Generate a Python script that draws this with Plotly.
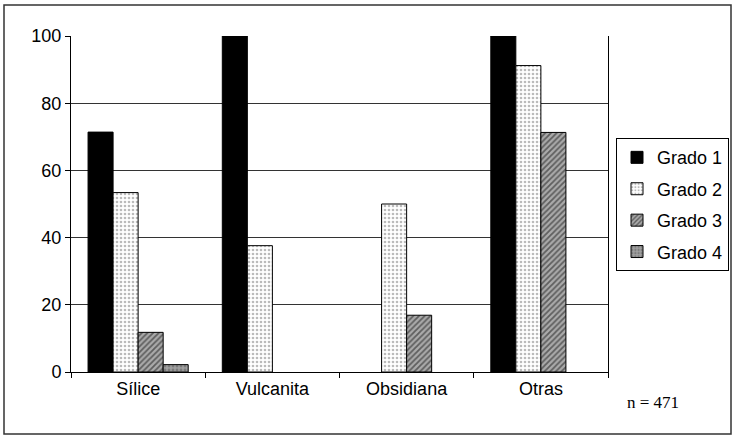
import plotly.graph_objects as go

categories = ["Sílice", "Vulcanita", "Obsidiana", "Otras"]
grado1 = [71.4, 100, None, 100]
grado2 = [53.4, 37.6, 50, 91.2]
grado3 = [11.8, None, 16.9, 71.3]
grado4 = [2.2, None, None, None]
series_names = ["Grado 1", "Grado 2", "Grado 3", "Grado 4"]
y_ticks = [0, 20, 40, 60, 80, 100]

styles = [
    dict(color="black", pattern=None),
    dict(color="white", pattern=dict(shape=".", fgcolor="#777777", bgcolor="white", size=4, solidity=0.35)),
    dict(color="#888888", pattern=dict(shape="/", fgcolor="#111111", bgcolor="#aaaaaa", size=4, solidity=0.45)),
    dict(color="#999999", pattern=dict(shape=".", fgcolor="#555555", bgcolor="#a0a0a0", size=4, solidity=0.4)),
]

fig = go.Figure()
for i, (name, vals) in enumerate(zip(series_names, [grado1, grado2, grado3, grado4])):
    st = styles[i]
    marker = dict(color=st["color"], line=dict(color="black", width=1))
    if st["pattern"]:
        marker["pattern"] = st["pattern"]
    fig.add_trace(go.Bar(x=categories, y=vals, name=name, marker=marker, legendgroup=name))

fig.update_layout(
    width=733, height=436,
    margin=dict(l=71, r=125, t=36, b=64, autoexpand=False),
    paper_bgcolor="white", plot_bgcolor="white",
    barmode="group", bargap=0.254, bargroupgap=0,
    font=dict(family="Liberation Sans, Arial", size=18, color="black"),
    legend=dict(x=(616 - 71) / 537, y=0.696, xanchor="left", yanchor="top",
                bordercolor="black", borderwidth=1, bgcolor="white",
                font=dict(size=18), tracegroupgap=5, itemwidth=30),
    showlegend=True,
)
fig.update_xaxes(showline=True, linecolor="black", linewidth=1, ticks="outside",
                 tickson="boundaries", ticklen=5, tickcolor="black", showgrid=False)
fig.update_yaxes(range=[0, 100], tickvals=y_ticks, showline=True, linecolor="black",
                 linewidth=1, mirror=True, ticks="outside", ticklen=5, tickcolor="black",
                 showgrid=True, gridcolor="#333333", gridwidth=1, zeroline=False)

fig.add_annotation(text="n = 471", xref="paper", yref="paper", x=(625 - 71) / 537,
                   y=(372 - 403) / 336, xanchor="left", yanchor="middle", showarrow=False,
                   font=dict(family="Liberation Serif, Times New Roman", size=17, color="black"))
fig.add_shape(type="rect", xref="paper", yref="paper",
              x0=(4 - 71) / 537, x1=(731 - 71) / 537,
              y0=(372 - 434) / 336, y1=(372 - 5) / 336,
              line=dict(color="#333333", width=1.5))

fig.write_html("out.html", config={"displayModeBar": False},
               post_script="document.body.style.margin='0';")
